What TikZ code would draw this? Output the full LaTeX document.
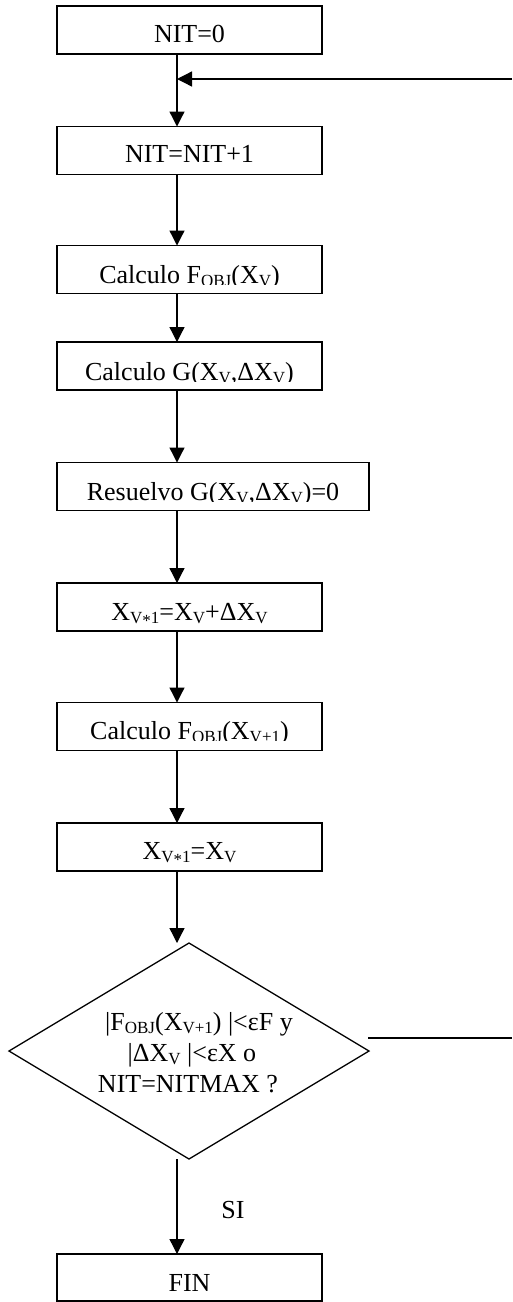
\documentclass[tikz,border=0pt]{standalone}
\usepackage{fontspec}
\setmainfont{Liberation Serif}
\usetikzlibrary{arrows.meta,shapes.geometric}

% lowered small index, as used in the formulas of the flow chart
\newcommand\lowidx[1]{\raisebox{-3.5pt}{\fontsize{17}{17}\selectfont #1}}
\newcommand\midstar{\raisebox{-2.5pt}{*}}

\begin{document}
\begin{tikzpicture}[x=1pt,y=-1pt,
  every node/.style={font=\fontsize{26}{31}\selectfont, inner sep=0pt, outer sep=0pt},
  procbox/.style={draw, line width=1.8pt, minimum height=48pt, minimum width=265pt},
  lbl/.style={anchor=base},
  flow/.style={line width=1.3pt, -{Triangle[length=15pt,width=15pt]}},
  plain/.style={line width=1.3pt},
  decision/.style={draw, diamond, line width=1.3pt, minimum width=360pt, minimum height=216pt}]

\useasboundingbox (0,0) rectangle (512,1302);

% process boxes
\node[procbox] (b1) at (189.5,30) {};
\node[procbox] (b2) at (189.5,150.5) {};
\node[procbox] (b3) at (189.5,269.5) {};
\node[procbox] (b4) at (189.5,366) {};
\node[procbox, minimum width=312pt] (b5) at (213,486.5) {};
\node[procbox] (b6) at (189.5,607) {};
\node[procbox] (b7) at (189.5,726.5) {};
\node[procbox] (b8) at (189.5,847) {};
\node[decision] (dec) at (189,1051) {};
\node[procbox, minimum height=47pt] (b9) at (189.5,1277.5) {};

% box texts
\node[lbl] (t1) at (189.5,42) {NIT=0};
\node[lbl] (t2) at (189.5,162) {NIT=NIT+1};
\begin{scope}
  \clip (57,246) rectangle (322,284);
  \node[lbl] (t3) at (189.5,283) {Calculo F\lowidx{OBJ}(X\lowidx{V})};
\end{scope}
\begin{scope}
  \clip (57,342) rectangle (322,381);
  \node[lbl] (t4) at (189.5,380) {Calculo G(X\lowidx{V},ΔX\lowidx{V})};
\end{scope}
\begin{scope}
  \clip (57,463) rectangle (369,501);
  \node[lbl] (t5) at (213,500) {Resuelvo G(X\lowidx{V},ΔX\lowidx{V})=0};
\end{scope}
\node[lbl] (t6) at (189.5,620) {X\lowidx{V\midstar1}=X\lowidx{V}+ΔX\lowidx{V}};
\begin{scope}
  \clip (57,702) rectangle (322,740);
  \node[lbl] (t7) at (189.5,739) {Calculo F\lowidx{OBJ}(X\lowidx{V+1})};
\end{scope}
\node[lbl] (t8) at (189.5,859) {X\lowidx{V\midstar1}=X\lowidx{V}};
% decision text: the base anchor sits on the last line
\node[align=center, anchor=base] (dtext) at (192,1092)
  {\kern14pt|F\lowidx{OBJ}(X\lowidx{V+1}) |<εF y\\
   |ΔX\lowidx{V} |<εX o\\
   NIT=NITMAX ?\kern8pt};
\node[lbl] (t9) at (189.5,1291) {FIN};
\node[lbl] (si) at (233,1218) {SI};

% connectors
\coordinate (spine) at (177,0);
\coordinate (loopJ) at (177,79);
\coordinate (loopR) at (512,79);
\coordinate (noOut) at (512,1038);

\draw[flow] (b1.south -| spine) -- (b2.north -| spine);
\draw[flow] (loopR) -- (loopJ);
\draw[flow] (b2.south -| spine) -- (b3.north -| spine);
\draw[flow] (b3.south -| spine) -- (b4.north -| spine);
\draw[flow] (b4.south -| spine) -- (b5.north -| spine);
\draw[flow] (b5.south -| spine) -- (b6.north -| spine);
\draw[flow] (b6.south -| spine) -- (b7.north -| spine);
\draw[flow] (b7.south -| spine) -- (b8.north -| spine);
\draw[flow] (b8.south -| spine) -- (dec.north -| spine);
\draw[plain] ([shift={(-1,-13)}]dec.east) -- (noOut);
\draw[flow] (dec.south -| spine) -- (b9.north -| spine);
\end{tikzpicture}
\end{document}
